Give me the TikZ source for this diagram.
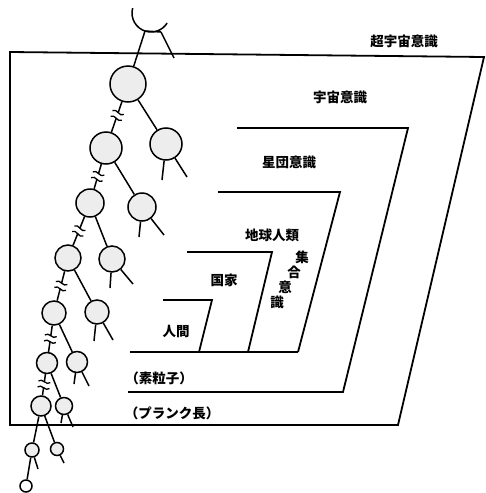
\documentclass[tikz,border=0pt]{standalone}
\usepackage{fontspec}
\newfontfamily\jp{Noto Sans CJK JP}
\begin{document}
\begin{tikzpicture}[x=1pt,y=-1pt,
  frame/.style={line width=1.8pt, line join=miter},
  tn/.style={circle, draw, line width=1.5pt, fill=gray!14, inner sep=0pt},
  link/.style={line width=1.5pt},
  lbl/.style={font=\jp\bfseries\fontsize{13.5}{14}\selectfont, inner sep=0pt},
  brk/.pic={
    \fill[white] (-2.5,-2) rectangle (2.5,2);
    \draw[line width=1.3pt] (-3,-6) .. controls (1,-2.5) and (-7,2.5) .. (-3,6);
    \draw[line width=1.3pt] (3,-6) .. controls (7,-2.5) and (-1,2.5) .. (3,6);
  }]
\useasboundingbox (0,0) rectangle (485,493);

% nested consciousness frames
\draw[frame] (10,52) -- (484,57) -- (398,425) -- (10,425) -- cycle;
\draw[frame] (237,128) -- (408,128) -- (343,392) -- (128,392);
\draw[frame] (218,192) -- (340,192) -- (298,352);
\draw[frame] (187,252) -- (272,252) -- (248,352);
\draw[frame] (163,300) -- (212,300) -- (199,352);
\draw[frame] (130,352) -- (298,352);

% labels
\node[lbl] (tu) at (404,41) {超宇宙意識};
\node[lbl] (uc) at (340,97) {宇宙意識};
\node[lbl] (sd) at (289,162) {星団意識};
\node[lbl] (ch) at (272,235) {地球人類};
\node[lbl] (j1) at (302,257) {集};
\node[lbl] (j2) at (294,272) {合};
\node[lbl] (j3) at (285,287) {意};
\node[lbl] (j4) at (277,302) {識};
\node[lbl] (kk) at (224,280) {国家};
\node[lbl] (nn) at (176,332) {人間};
\node[lbl] (sr) at (159,378) {（素粒子）};
\node[lbl] (pl) at (172,413) {（プランク長）};

% tree of units
\node[tn, minimum size=36] (c1) at (128,84) {};
\node[tn, minimum size=32] (c2) at (106,148) {};
\node[tn, minimum size=32] (c3) at (166,144) {};
\node[tn, minimum size=28] (c4) at (90,203) {};
\node[tn, minimum size=28] (c5) at (142,207) {};
\node[tn, minimum size=26] (c6) at (68,258) {};
\node[tn, minimum size=26] (c7) at (112,259) {};
\node[tn, minimum size=24] (c8) at (54,313) {};
\node[tn, minimum size=24] (c9) at (97,312) {};
\node[tn, minimum size=21] (c10) at (47,363) {};
\node[tn, minimum size=21] (c11) at (77,362) {};
\node[tn, minimum size=20] (c12) at (41,406) {};
\node[tn, minimum size=17] (c13) at (64,406) {};
\node[tn, minimum size=14] (c14) at (32,450) {};
\node[tn, minimum size=13] (c15) at (57,449) {};
\node[tn, minimum size=12, fill=white] (c16) at (26,486) {};

% cup at the top
\coordinate (cupL) at (145,31);
\coordinate (cupR) at (161,32);
\coordinate (cupT) at (174,58);
\draw[link] (151,13) ++(195:19) arc[start angle=195, end angle=32, radius=19];
\draw[link] (cupL) -- (cupR);
\draw[link] (cupL) -- (c1);
\draw[link] (cupR) -- (cupT);

% free leg ends
\coordinate (l3a) at (162,180); \coordinate (l3b) at (187,177);
\coordinate (l5a) at (139,237); \coordinate (l5b) at (164,235);
\coordinate (l7a) at (110,288); \coordinate (l7b) at (133,284);
\coordinate (l9a) at (94,341);  \coordinate (l9b) at (113,340);
\coordinate (l11a) at (74,384); \coordinate (l11b) at (89,386);
\coordinate (l13a) at (61,423); \coordinate (l13b) at (73,427);
\coordinate (l14b) at (38,469);
\coordinate (l15a) at (64,463);

% branches
\draw[link] (c1) -- (c2) pic[pos=0.45, sloped]{brk};
\draw[link] (c1) -- (c3);
\draw[link] (c3) -- (l3a); \draw[link] (c3) -- (l3b);
\draw[link] (c2) -- (c4) pic[pos=0.5, sloped]{brk};
\draw[link] (c2) -- (c5);
\draw[link] (c5) -- (l5a); \draw[link] (c5) -- (l5b);
\draw[link] (c4) -- (c6) pic[pos=0.5, sloped]{brk};
\draw[link] (c4) -- (c7);
\draw[link] (c7) -- (l7a); \draw[link] (c7) -- (l7b);
\draw[link] (c6) -- (c8) pic[pos=0.5, sloped]{brk};
\draw[link] (c6) -- (c9);
\draw[link] (c9) -- (l9a); \draw[link] (c9) -- (l9b);
\draw[link] (c8) -- (c10) pic[pos=0.5, sloped]{brk};
\draw[link] (c8) -- (c11);
\draw[link] (c11) -- (l11a); \draw[link] (c11) -- (l11b);
\draw[link] (c10) -- (c12) pic[pos=0.5, sloped]{brk};
\draw[link] (c10) -- (c13);
\draw[link] (c13) -- (l13a); \draw[link] (c13) -- (l13b);
\draw[link] (c12) -- (c14);
\draw[link] (c12) -- (c15);
\draw[link] (c14) -- (c16);
\draw[link] (c14) -- (l14b);
\draw[link] (c15) -- (l15a);
\end{tikzpicture}
\end{document}
